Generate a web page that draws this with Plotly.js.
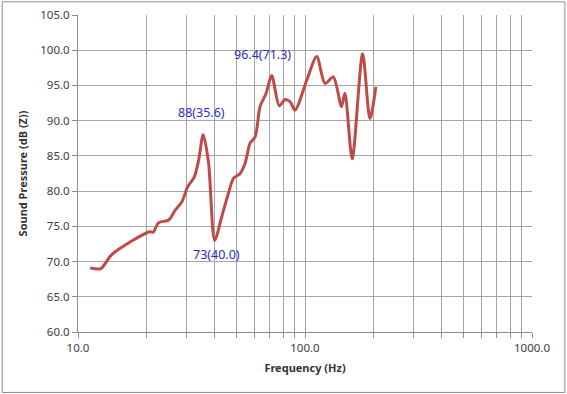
<!DOCTYPE html>
<html>
<head>
<meta charset="utf-8">
<script src="https://cdn.plot.ly/plotly-3.0.1.min.js"></script>
<style>html,body{margin:0;padding:0;background:#fff;}#chart{width:567px;height:394px;}</style>
</head>
<body>
<div id="chart"></div>
<script>
const freq = [11.3, 12.6, 14.1, 20.5, 21.5, 22.6, 25.1, 26.8, 28.7, 30.4, 32.5, 34.0, 35.6, 37.6, 40.0, 43.0, 46.0, 48.4, 51.8, 54.5, 57.3, 60.3, 63.4, 67.4, 71.3, 77.1, 81.7, 85.9, 90.4, 101.7, 112.6, 122.5, 133.2, 144.8, 149.9, 161.4, 179.4, 193.2, 205.2];
const spl  = [69.1, 69.0, 71.0, 74.2, 74.2, 75.5, 75.9, 77.3, 78.5, 80.6, 82.0, 84.4, 88.0, 84.0, 73.0, 76.4, 79.7, 81.8, 82.5, 84.0, 86.8, 87.7, 92.0, 93.9, 96.4, 92.1, 93.0, 92.7, 91.5, 95.7, 99.1, 95.3, 96.2, 92.0, 93.9, 84.6, 99.5, 90.3, 94.8];
const peakLabels = ["88(35.6)", "96.4(71.3)", "73(40.0)"];
const peakX = [35.6, 71.3, 40.0];
const peakY = [88.0, 96.4, 73.0];
const xTickVals = [10,20,30,40,50,60,70,80,90,100,200,300,400,500,600,700,800,900,1000];
const xTickText = ["10.0","","","","","","","","","100.0","","","","","","","","","1000.0"];

const W = 567, H = 394, L = 77.5, R = 34.5, T = 14.7, B = 62;
const pw = W - L - R, ph = H - T - B;

const annotations = peakLabels.map((t, i) => ({
  x: Math.log10(peakX[i]), y: peakY[i], xref: 'x', yref: 'y', text: t,
  showarrow: true, arrowcolor: 'rgba(0,0,0,0)', ax: [ -2, -9, 2 ][i], ay: [ -22, -21, 14 ][i],
  font: {family: 'Noto Sans, Open Sans, sans-serif', size: 12.5, color: '#2B2BC8'}
}));

const data = [{
  x: freq, y: spl, type: 'scatter', mode: 'lines',
  line: {color: '#BE4B48', width: 3, shape: 'spline', smoothing: 0.8},
  hoverinfo: 'skip'
}];

const layout = {
  width: W, height: H,
  margin: {l: L, r: R, t: T, b: B, pad: 0},
  paper_bgcolor: '#fff', plot_bgcolor: '#fff',
  showlegend: false,
  font: {family: 'Noto Sans, Open Sans, sans-serif', size: 11.5, color: '#404040'},
  xaxis: {
    type: 'log', range: [1, 3], tickmode: 'array', tickvals: xTickVals, ticktext: xTickText,
    showgrid: true, gridcolor: '#A5A5A5', gridwidth: 1,
    showline: true, linecolor: '#8C8C8C', linewidth: 1,
    ticks: 'outside', ticklen: 5, tickcolor: '#8C8C8C',
    zeroline: false, tickfont: {size: 11.5, color: '#404040'},
    title: {text: '<b>Frequency (Hz)</b>', font: {size: 11, color: '#333'}, standoff: 10}
  },
  yaxis: {
    range: [60, 105], dtick: 5, tick0: 60, tickformat: '.1f',
    showgrid: true, gridcolor: '#A5A5A5', gridwidth: 1,
    showline: true, linecolor: '#8C8C8C', linewidth: 1,
    ticks: 'outside', ticklen: 5, tickcolor: '#8C8C8C',
    zeroline: false, tickfont: {size: 11.5, color: '#404040'},
    title: {text: '<b>Sound Pressure (dB (Z))</b>', font: {size: 11, color: '#333'}, standoff: 10}
  },
  annotations: annotations,
  shapes: [{
    type: 'rect', xref: 'paper', yref: 'paper', layer: 'above',
    x0: (1.5 - L) / pw, x1: (W - 1.5 - L) / pw,
    y0: -(B - 1.5) / ph, y1: 1 + (T - 1.5) / ph,
    line: {color: '#8C8C8C', width: 1}
  }]
};

Plotly.newPlot('chart', data, layout, {staticPlot: true});
</script>
</body>
</html>
